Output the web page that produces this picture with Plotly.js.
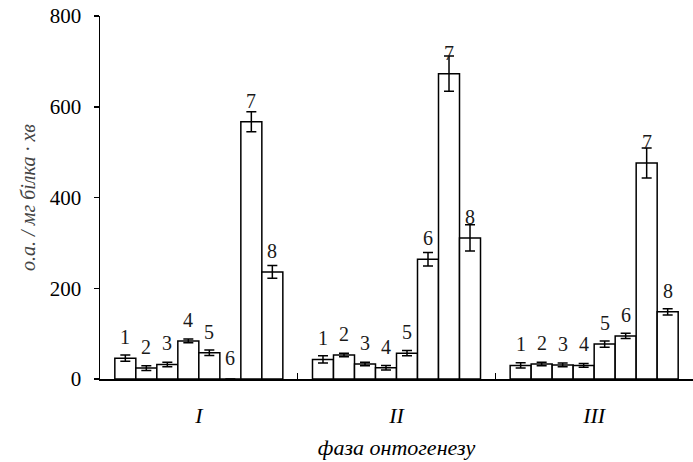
<!DOCTYPE html>
<html>
<head>
<meta charset="utf-8">
<script src="https://cdn.plot.ly/plotly-3.0.1.min.js"></script>
<style>html,body{margin:0;padding:0;background:#fff;}#chart{width:693px;height:462px;}</style>
</head>
<body>
<div id="chart"></div>
<script>
// Phases of ontogenesis (x categories)
const phases = ['I', 'II', 'III'];
// Series labels (numbers drawn above bars)
const seriesNames = ['1', '2', '3', '4', '5', '6', '7', '8'];
// Values per series across phases I, II, III
const s1 = [46, 43, 30];
const s2 = [24, 53, 33];
const s3 = [32, 33, 31];
const s4 = [84, 25, 30];
const s5 = [58, 57, 77];
const s6 = [0, 264, 95];
const s7 = [567, 673, 476];
const s8 = [236, 311, 148];
// Error (±) per series across phases
const e1 = [7, 8, 6];
const e2 = [5, 4, 4];
const e3 = [5, 4, 4];
const e4 = [4, 5, 4];
const e5 = [6, 6, 7];
const e6 = [0, 15, 6];
const e7 = [22, 39, 33];
const e8 = [14, 29, 7];
const yTicks = [0, 200, 400, 600, 800];

const values = [s1, s2, s3, s4, s5, s6, s7, s8];
const errors = [e1, e2, e3, e4, e5, e6, e7, e8];

const bargap = 0.15;
const serif = '"Liberation Serif", "Times New Roman", serif';

const traces = values.map((v, k) => ({
  type: 'bar',
  name: seriesNames[k],
  x: phases,
  y: v,
  marker: {color: '#ffffff', line: {color: '#000000', width: 1.5}},
  error_y: {type: 'data', array: errors[k], visible: true, color: '#000000', thickness: 1.5, width: 5},
  showlegend: false,
  hoverinfo: 'x+y'
}));

const n = values.length;
const bw = (1 - bargap) / n;
const annotations = [];
values.forEach((v, k) => {
  v.forEach((val, p) => {
    annotations.push({
      x: p + (k - (n - 1) / 2) * bw,
      y: val,
      xref: 'x', yref: 'y',
      text: seriesNames[k],
      showarrow: false,
      yanchor: 'middle',
      yshift: 21,
      font: {family: serif, size: 20, color: '#1a1a1a'}
    });
  });
});

const layout = {
  width: 693, height: 462,
  margin: {l: 100, r: 0, t: 16, b: 83},
  paper_bgcolor: '#ffffff', plot_bgcolor: '#ffffff',
  barmode: 'group', bargap: bargap, bargroupgap: 0,
  xaxis: {
    type: 'category',
    showline: true, linecolor: '#000000', linewidth: 1.5,
    ticks: 'inside', tickson: 'boundaries', ticklen: 6, tickwidth: 1.5, tickcolor: '#000000',
    tickfont: {family: serif, size: 22, color: '#000000', style: 'italic'},
    ticklabelstandoff: 16,
    showgrid: false, zeroline: false,
    title: {text: 'фаза онтогенезу', font: {family: serif, size: 22, color: '#000000', style: 'italic'}, standoff: 12}
  },
  yaxis: {
    range: [0, 800],
    tickvals: yTicks, ticktext: yTicks.map(String),
    showline: true, linecolor: '#000000', linewidth: 1.5,
    ticks: 'outside', ticklen: 5, tickwidth: 1.5, tickcolor: '#000000',
    tickfont: {family: serif, size: 21, color: '#000000'},
    ticklabelstandoff: 8,
    showgrid: false, zeroline: false,
    title: {text: 'о.а. / мг білка · хв', font: {family: serif, size: 20, color: '#444444', style: 'italic'}, standoff: 9}
  },
  annotations: annotations
};

Plotly.newPlot('chart', traces, layout, {displayModeBar: false, staticPlot: true});
</script>
</body>
</html>
